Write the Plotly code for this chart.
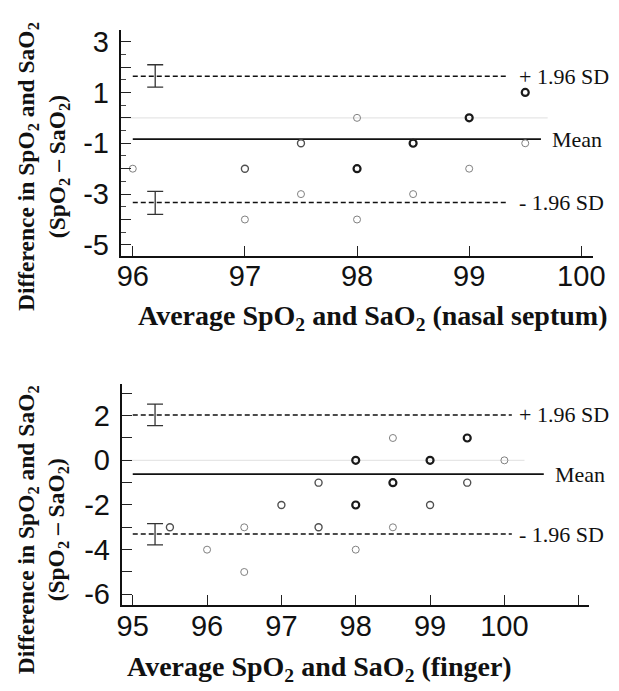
import plotly.graph_objects as go

W, H = 619, 691

# ---------------- data: nasal septum (top) ----------------
top_x = [96, 97, 97, 97.5, 97.5, 98, 98, 98, 98.5, 98.5, 99, 99, 99.5, 99.5]
top_y = [-2, -2, -4, -1, -3, 0, -2, -4, -1, -3, 0, -2, 1, -1]
top_n = [1, 2, 1, 2, 1, 1, 3, 1, 3, 1, 3, 1, 3, 1]
top_mean = -0.84
top_upper = 1.64
top_lower = -3.33
top_upper_ci = [1.21, 2.09]
top_lower_ci = [-3.80, -2.89]
top_ci_x = 96.2
top_line_start = 96.0
top_limit_end = 99.35
top_mean_end = 99.64
top_zero_end = 99.7
top_xticks = [96, 97, 98, 99, 100]
top_yticks = [-5, -4, -3, -2, -1, 0, 1, 2, 3]

# ---------------- data: finger (bottom) ----------------
bot_x = [95.5, 96, 96.5, 96.5, 97, 97.5, 97.5, 98, 98, 98, 98.5, 98.5, 98.5, 99, 99, 99.5, 99.5, 100]
bot_y = [-3, -4, -3, -5, -2, -1, -3, 0, -2, -4, 1, -1, -3, 0, -2, 1, -1, 0]
bot_n = [2, 1, 1, 1, 2, 2, 2, 3, 3, 1, 1, 3, 1, 3, 2, 3, 2, 1]
bot_mean = -0.62
bot_upper = 2.03
bot_lower = -3.30
bot_upper_ci = [1.55, 2.52]
bot_lower_ci = [-3.79, -2.83]
bot_ci_x = 95.3
bot_line_start = 95.0
bot_limit_end = 100.1
bot_mean_end = 100.53
bot_zero_end = 100.27
bot_xticks = [95, 96, 97, 98, 99, 100, 101]
bot_xticktext = ["95", "96", "97", "98", "99", "100", ""]
bot_yticks = [-6, -5, -4, -3, -2, -1, 0, 1, 2, 3]

marker_color = {1: "#808080", 2: "#505050", 3: "#1a1a1a"}
marker_width = {1: 1.0, 2: 1.4, 3: 2.2}

fig = go.Figure()


def add_panel(xs, ys, ns, mean, upper, lower, up_ci, lo_ci, ci_x,
              start, lim_end, mean_end, zero_end, xa, ya, x0axis):
    # zero line
    fig.add_trace(go.Scatter(x=[x0axis, zero_end], y=[0, 0], mode="lines",
                             line=dict(color="#e6e6e6", width=1.2),
                             xaxis=xa, yaxis=ya, hoverinfo="skip"))
    # mean line
    fig.add_trace(go.Scatter(x=[start, mean_end], y=[mean, mean], mode="lines",
                             line=dict(color="#111111", width=1.8),
                             xaxis=xa, yaxis=ya, hoverinfo="skip"))
    # limits of agreement
    for v in (upper, lower):
        fig.add_trace(go.Scatter(x=[start, lim_end], y=[v, v], mode="lines",
                                 line=dict(color="#111111", width=1.6, dash="5px,3px"),
                                 xaxis=xa, yaxis=ya, hoverinfo="skip"))
    # confidence intervals of limits
    for v, ci in ((upper, up_ci), (lower, lo_ci)):
        fig.add_trace(go.Scatter(x=[ci_x], y=[v], mode="markers",
                                 marker=dict(size=1, color="rgba(0,0,0,0)"),
                                 error_y=dict(type="data", symmetric=False,
                                              array=[ci[1] - v], arrayminus=[v - ci[0]],
                                              color="#333333", thickness=1.3, width=8),
                                 xaxis=xa, yaxis=ya, hoverinfo="skip"))
    # points
    for level in (1, 2, 3):
        px = [x for x, n in zip(xs, ns) if n == level]
        py = [y for y, n in zip(ys, ns) if n == level]
        fig.add_trace(go.Scatter(x=px, y=py, mode="markers",
                                 marker=dict(symbol="circle-open", size=7,
                                             color=marker_color[level],
                                             line=dict(width=marker_width[level],
                                                       color=marker_color[level])),
                                 xaxis=xa, yaxis=ya))


add_panel(top_x, top_y, top_n, top_mean, top_upper, top_lower, top_upper_ci,
          top_lower_ci, top_ci_x, top_line_start, top_limit_end, top_mean_end,
          top_zero_end, "x", "y", 95.893)
add_panel(bot_x, bot_y, bot_n, bot_mean, bot_upper, bot_lower, bot_upper_ci,
          bot_lower_ci, bot_ci_x, bot_line_start, bot_limit_end, bot_mean_end,
          bot_zero_end, "x2", "y2", 94.852)

tickfont = dict(family="Liberation Sans, Arial, sans-serif", size=29, color="#111111")
axis_common = dict(showline=True, linecolor="#111111", showgrid=False, zeroline=False,
                   ticks="inside", tickcolor="#222222", tickfont=tickfont, fixedrange=True)

top_yticktext = [str(v) if v % 2 != 0 else "" for v in top_yticks]
bot_yticktext = [str(v) if v % 2 == 0 else "" for v in bot_yticks]

fig.update_layout(
    width=W, height=H, margin=dict(l=0, r=0, t=0, b=0),
    paper_bgcolor="white", plot_bgcolor="white", showlegend=False,
    xaxis=dict(axis_common, domain=[111 / W, 597 / W], range=[95.893, 100.101],
               tickvals=top_xticks, ticklen=10, tickwidth=1.2, linewidth=1.6,
               anchor="y", ticklabelstandoff=-6),
    yaxis=dict(axis_common, domain=[1 - 247 / H, 1 - 18 / H], range=[-5.427, 3.466],
               tickvals=top_yticks, ticktext=top_yticktext, ticklen=10, tickwidth=1.2,
               linewidth=2, anchor="x", ticklabelstandoff=4,
               minor=dict(dtick=0.5, tick0=0, ticks="inside", ticklen=5,
                          tickcolor="#444444", tickwidth=1, showgrid=False)),
    xaxis2=dict(axis_common, domain=[112 / W, 593 / W], range=[94.852, 101.135],
                tickvals=bot_xticks, ticktext=bot_xticktext, ticklen=10, tickwidth=1.2,
                linewidth=1.6, anchor="y2", ticklabelstandoff=-6),
    yaxis2=dict(axis_common, domain=[1 - 601 / H, 1 - 377 / H], range=[-6.486, 3.414],
                tickvals=bot_yticks, ticktext=bot_yticktext, ticklen=10, tickwidth=1.2,
                linewidth=2, anchor="x2", ticklabelstandoff=4),
)

serif = "Liberation Serif, Times New Roman, serif"
title_font = dict(family=serif, size=28, color="#111111")
ytitle_font = dict(family=serif, size=23.5, color="#111111")
label_font = dict(family=serif, size=22, color="#111111")

annotations = [
    dict(text="<b>Average SpO<sub>2</sub> and SaO<sub>2</sub> (nasal septum)</b>",
         x=370 / W, y=1 - 310 / H, xref="paper", yref="paper", showarrow=False,
         font=title_font, xanchor="center", yanchor="middle"),
    dict(text="<b>Average SpO<sub>2</sub> and SaO<sub>2</sub> (finger)</b>",
         x=316 / W, y=1 - 665 / H, xref="paper", yref="paper", showarrow=False,
         font=title_font, xanchor="center", yanchor="middle"),
    dict(text="<b>Difference in SpO<sub>2</sub> and SaO<sub>2</sub><br>(SpO<sub>2</sub> \u2013 SaO<sub>2</sub>)</b>",
         x=31 / W, y=1 - 157 / H, xref="paper", yref="paper", showarrow=False,
         textangle=-90, font=ytitle_font, xanchor="center", yanchor="middle"),
    dict(text="<b>Difference in SpO<sub>2</sub> and SaO<sub>2</sub><br>(SpO<sub>2</sub> \u2013 SaO<sub>2</sub>)</b>",
         x=31 / W, y=1 - 525 / H, xref="paper", yref="paper", showarrow=False,
         textangle=-90, font=ytitle_font, xanchor="center", yanchor="middle"),
]
for yref, up, mn, lo, mean_x in (("y", top_upper, top_mean, top_lower, 553),
                                 ("y2", bot_upper, bot_mean, bot_lower, 556)):
    annotations += [
        dict(text="+ 1.96 SD", x=519 / W, y=up, xref="paper", yref=yref, showarrow=False,
             font=label_font, xanchor="left", yanchor="middle"),
        dict(text="Mean", x=mean_x / W, y=mn, xref="paper", yref=yref, showarrow=False,
             font=label_font, xanchor="left", yanchor="middle"),
        dict(text="- 1.96 SD", x=519 / W, y=lo, xref="paper", yref=yref, showarrow=False,
             font=label_font, xanchor="left", yanchor="middle"),
    ]
fig.update_layout(annotations=annotations)

fig.write_html("out.html")
